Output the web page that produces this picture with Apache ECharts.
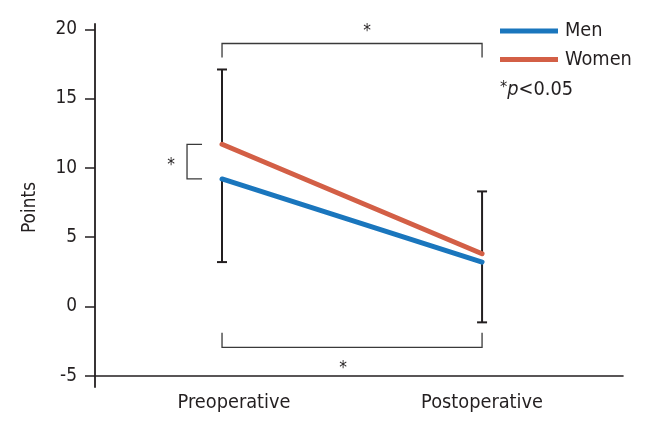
<!DOCTYPE html>
<html>
<head>
<meta charset="utf-8">
<script src="https://cdn.jsdelivr.net/npm/echarts@6/dist/echarts.min.js"></script>
<style>html,body{margin:0;padding:0;background:#fff}#c{width:648px;height:423px}</style>
</head>
<body>
<div id="c"></div>
<script>
// ---- data ----
var categories = ['Preoperative', 'Postoperative'];
var menMean = [9.2, 3.2];
var womenMean = [11.7, 3.8];
var menSD = [6.0, 4.35];     // drawn downward
var womenSD = [5.4, 4.5];    // drawn upward
var yTicks = [-5, 0, 5, 10, 15, 20];
var legendNames = ['Men', 'Women'];

// ---- pick a condensed font if one is installed ----
function fontAvailable(name) {
  var cv = document.createElement('canvas').getContext('2d');
  var s = 'Preoperative Women 0123456789';
  cv.font = '40px monospace'; var a = cv.measureText(s).width;
  cv.font = '40px "' + name + '", monospace'; var b = cv.measureText(s).width;
  cv.font = '40px serif'; var c = cv.measureText(s).width;
  cv.font = '40px "' + name + '", serif'; var d = cv.measureText(s).width;
  return a !== b || c !== d;
}
var FONT, K;
var cands = ['Liberation Sans Narrow', 'DejaVu Sans Condensed', 'Roboto Condensed', 'Arial Narrow'];
var found = null;
for (var ci = 0; ci < cands.length; ci++) { if (fontAvailable(cands[ci])) { found = cands[ci]; break; } }
if (found) {
  FONT = '"' + found + '"';
  K = found === 'DejaVu Sans Condensed' ? 0.9 : 1;
} else {
  FONT = '"Liberation Sans", Arial, sans-serif';
  K = 0.86;
}
function fs(n) { return Math.round(n * K * 10) / 10; }

var TXT = '#231f20';
var BLUE = '#1a76bd';
var RED = '#d35f46';

var chart = echarts.init(document.getElementById('c'), null, {renderer: 'canvas'});

var menData = categories.map(function (c, i) { return [i, menMean[i]]; });
var womenData = categories.map(function (c, i) { return [i, womenMean[i]]; });
var errData = [];
categories.forEach(function (c, i) {
  errData.push([i, womenMean[i], womenMean[i] + womenSD[i]]);
  errData.push([i, menMean[i], menMean[i] - menSD[i]]);
});

function star(x, y) {
  return {type: 'text', x: x, y: y, style: {text: '*', font: fs(19) + 'px ' + FONT, fill: TXT, align: 'center', verticalAlign: 'middle'}};
}

var option = {
  animation: false,
  backgroundColor: '#fff',
  grid: {left: 95, right: 25, top: 29.3, bottom: 47.3},
  xAxis: {
    type: 'value',
    min: -0.4885, max: 1.542,
    splitLine: {show: false},
    axisLine: {show: true, onZero: false, lineStyle: {color: TXT, width: 1.6}},
    axisTick: {show: false},
    axisLabel: {
      customValues: [0, 1],
      margin: 17,
      fontFamily: FONT, fontSize: fs(22), color: TXT,
      formatter: function (v) {
        var i = Math.round(v);
        return i === 0 ? '{pre|' + categories[0] + '}' : categories[i];
      },
      rich: {pre: {fontFamily: FONT, fontSize: fs(22), color: TXT, padding: [0, 0, 0, 24]}}
    }
  },
  yAxis: {
    type: 'value',
    min: -5, max: 20, interval: 5,
    splitLine: {show: false},
    axisLine: {show: false, onZero: false},
    axisTick: {show: true, length: 10, lineStyle: {color: TXT, width: 1.5}},
    axisLabel: {margin: 18, fontFamily: FONT, fontSize: fs(21), color: TXT,
      formatter: function (v) { return yTicks.indexOf(v) >= 0 ? String(v) : ''; }},
    name: 'Points',
    nameLocation: 'middle',
    nameGap: 55,
    nameTextStyle: {fontFamily: FONT, fontSize: fs(21), color: TXT, padding: [0, 0, 0, -10]}
  },
  legend: {
    orient: 'vertical',
    left: 495, top: 15,
    itemWidth: 58, itemHeight: 5, itemGap: 6.5,
    icon: 'rect',
    data: legendNames,
    textStyle: {fontFamily: FONT, fontSize: fs(22), color: TXT, lineHeight: 22, padding: [0, 0, 0, 2]}
  },
  title: {
    left: 495, top: 75,
    text: '{s|*}{i|p}{n|<0.05}',
    textStyle: {
      fontWeight: 'normal',
      rich: {
        s: {fontFamily: FONT, fontSize: fs(18), fontWeight: 'normal', color: TXT, verticalAlign: 'top'},
        i: {fontFamily: FONT, fontSize: fs(22), fontWeight: 'normal', fontStyle: 'italic', color: TXT},
        n: {fontFamily: FONT, fontSize: fs(22), fontWeight: 'normal', color: TXT}
      }
    }
  },
  series: [
    {
      type: 'custom',
      name: 'err',
      z: 1,
      silent: true,
      data: errData,
      encode: {x: 0, y: [1, 2]},
      renderItem: function (params, api) {
        var a = api.coord([api.value(0), api.value(1)]);
        var b = api.coord([api.value(0), api.value(2)]);
        return {type: 'group', children: [
          {type: 'line', shape: {x1: a[0], y1: a[1], x2: b[0], y2: b[1]}, style: {stroke: TXT, lineWidth: 2}},
          {type: 'line', shape: {x1: b[0] - 5, y1: b[1], x2: b[0] + 5, y2: b[1]}, style: {stroke: TXT, lineWidth: 2}}
        ]};
      }
    },
    {
      type: 'custom',
      name: 'sig',
      z: 1,
      silent: true,
      data: [[0]],
      renderItem: function (params, api) {
        var c = '#3a3a3a', w = 1.3;
        var pW = api.coord([0, womenMean[0]]);
        var pM = api.coord([0, menMean[0]]);
        var post = api.coord([1, womenMean[1]]);
        var preTop = api.coord([0, womenMean[0] + womenSD[0]]);
        var postBot = api.coord([1, menMean[1] - menSD[1]]);
        var x0 = pW[0], x1 = post[0];
        var ty = preTop[1] - 26, by = postBot[1] + 25;
        var lx = x0 - 35;
        return {type: 'group', children: [
          {type: 'polyline', shape: {points: [[x0, ty + 14], [x0, ty], [x1, ty], [x1, ty + 14]]}, style: {stroke: c, lineWidth: w, fill: null}},
          {type: 'polyline', shape: {points: [[x0, by - 14.5], [x0, by], [x1, by], [x1, by - 14.5]]}, style: {stroke: c, lineWidth: w, fill: null}},
          {type: 'polyline', shape: {points: [[lx + 15, pW[1]], [lx, pW[1]], [lx, pM[1]], [lx + 15, pM[1]]]}, style: {stroke: c, lineWidth: w, fill: null}},
          star((x0 + x1) / 2 + 15, ty - 12),
          star((x0 + x1) / 2 - 9, by + 21),
          star(lx - 16, (pW[1] + pM[1]) / 2 + 4)
        ]};
      }
    },
    {
      type: 'line', name: 'Men', data: menData, symbol: 'none', z: 3,
      color: BLUE,
      lineStyle: {color: BLUE, width: 5, cap: 'round'}
    },
    {
      type: 'line', name: 'Women', data: womenData, symbol: 'none', z: 3,
      color: RED,
      lineStyle: {color: RED, width: 5, cap: 'round'}
    }
  ]
};
chart.setOption(option);

// y axis line, extending slightly past the end ticks as in the reference
var yTop = chart.convertToPixel({yAxisIndex: 0}, 20) - 6;
var yBot = chart.convertToPixel({yAxisIndex: 0}, -5) + 12;
var xL = chart.convertToPixel({xAxisIndex: 0}, -0.4885);
chart.setOption({graphic: [{type: 'line', shape: {x1: xL, y1: yTop, x2: xL, y2: yBot}, style: {stroke: TXT, lineWidth: 1.8}, z: 10}]});
</script>
</body>
</html>
